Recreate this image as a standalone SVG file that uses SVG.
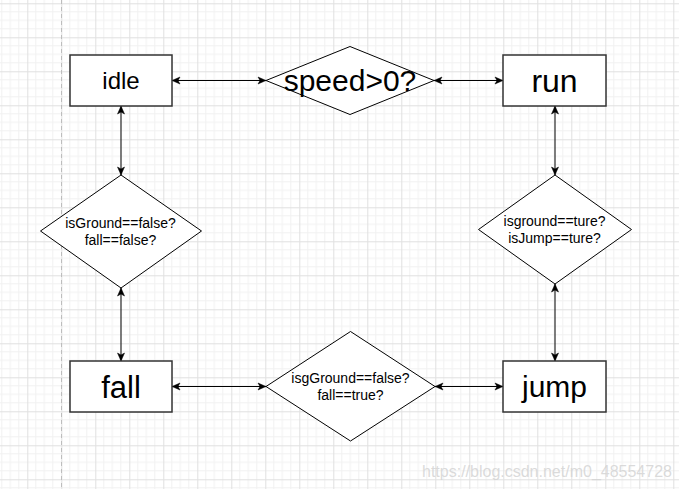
<svg xmlns="http://www.w3.org/2000/svg" width="679" height="489" viewBox="0 0 679 489">
<style>
.box{fill:#fff;stroke:#333;stroke-width:1.5}
.dia{fill:#fff;stroke:#000;stroke-width:1}
.lbl{font-family:"Liberation Sans",Arial,sans-serif;fill:#000;text-anchor:middle}
.small{font-size:14px}
.con{fill:none;stroke:#000;stroke-width:1;marker-start:url(#arr);marker-end:url(#arr)}
</style>
<defs>
<pattern id="grid" patternUnits="userSpaceOnUse" x="27.3" y="3.3" width="34" height="34">
<path d="M8.5,0V34M17,0V34M25.5,0V34M0,8.5H34M0,17H34M0,25.5H34" stroke="#f1f1f1" stroke-width="1" fill="none"/>
<path d="M0.5,0V34M0,0.5H34" stroke="#e0e0e0" stroke-width="1" fill="none"/>
</pattern>
<marker id="arr" markerUnits="userSpaceOnUse" markerWidth="10" markerHeight="10" viewBox="0 0 10 10" refX="9" refY="5" orient="auto-start-reverse">
<path d="M1,1.5 L9,5 L1,8.5 L3,5 Z" fill="#000" stroke="#000" stroke-width="0.5"/>
</marker>
</defs>
<rect width="679" height="489" fill="#fff"/>
<rect width="679" height="489" fill="url(#grid)"/>
<line x1="61.5" y1="0" x2="61.5" y2="489" stroke="#bdbdbd" stroke-width="1" stroke-dasharray="4,3"/>

<g id="connectors">
<path class="con" d="M172,80.5H266"/>
<path class="con" d="M434,80.5H503"/>
<path class="con" d="M121,106V175"/>
<path class="con" d="M121,288V361"/>
<path class="con" d="M555,106V175"/>
<path class="con" d="M555,284V361"/>
<path class="con" d="M172,386.5H266"/>
<path class="con" d="M435,386.5H503"/>
</g>

<g id="idle">
<rect class="box" x="70" y="55" width="102" height="51"/>
<text class="lbl" x="121" y="89" font-size="24">idle</text>
</g>
<g id="speed">
<polygon class="dia" points="350,46.5 434,80.5 350,114.5 266,80.5"/>
<text class="lbl" x="350" y="91" font-size="30">speed&gt;0?</text>
</g>
<g id="run">
<rect class="box" x="503" y="55" width="103" height="51"/>
<text class="lbl" x="554.5" y="91.5" font-size="32">run</text>
</g>
<g id="isGround">
<polygon class="dia" points="121,175 201.5,231 121,288 40.5,231"/>
<text class="lbl small" x="120.5" y="227.5">isGround==false?</text>
<text class="lbl small" x="120.5" y="245">fall==false?</text>
</g>
<g id="isground">
<polygon class="dia" points="555,175 631.5,229.5 555,284 478.5,229.5"/>
<text class="lbl small" x="554.5" y="225.5">isground==ture?</text>
<text class="lbl small" x="554.5" y="243">isJump==ture?</text>
</g>
<g id="isgGround">
<polygon class="dia" points="350.5,331.5 435,386.5 350.5,441 266,386.5"/>
<text class="lbl small" x="350.5" y="382.5">isgGround==false?</text>
<text class="lbl small" x="350.5" y="399.5">fall==true?</text>
</g>
<g id="fall">
<rect class="box" x="70" y="361" width="102" height="51"/>
<text class="lbl" x="121" y="397.5" font-size="31">fall</text>
</g>
<g id="jump">
<rect class="box" x="503" y="361" width="103" height="51"/>
<text class="lbl" x="554.5" y="397" font-size="30">jump</text>
</g>
<text x="422" y="476.5" font-family="'Liberation Sans',Arial,sans-serif" font-size="16" fill="#d4d4d4" fill-opacity="0.85">https://blog.csdn.net/m0_48554728</text>
</svg>
